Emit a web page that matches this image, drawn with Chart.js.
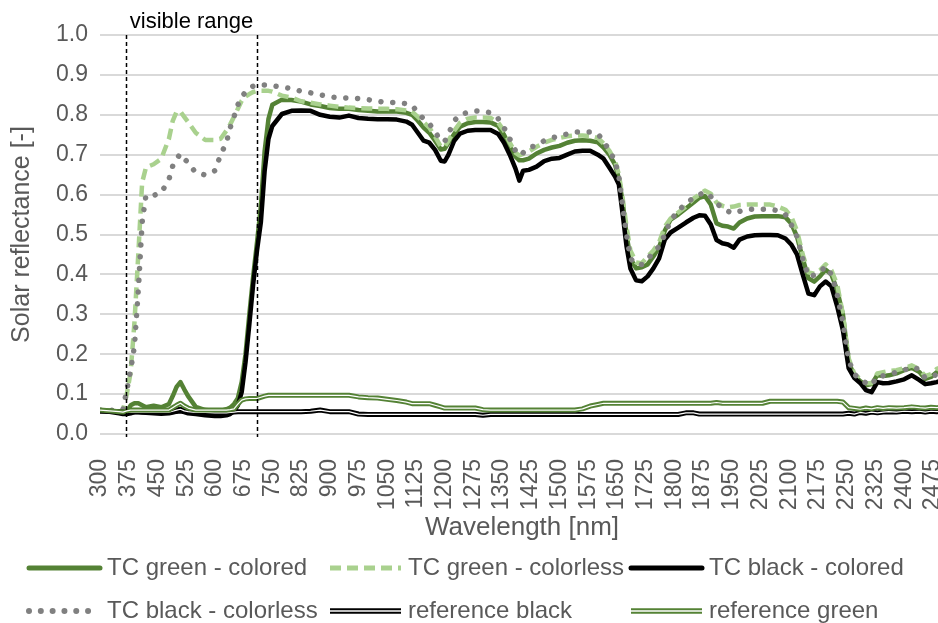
<!DOCTYPE html>
<html>
<head>
<meta charset="utf-8">
<script src="https://cdn.jsdelivr.net/npm/chart.js@4.4.1/dist/chart.umd.min.js"></script>
<style>
html,body{margin:0;padding:0;background:#fff;overflow:hidden;}
#wrap{position:relative;width:944px;height:623px;}
</style>
</head>
<body>
<div id="wrap"><canvas id="c"></canvas></div>
<script>
const wavelengths = [
 300,325,350,360,370,380,390,400,410,420,
 440,460,480,490,500,510,520,530,550,575,
 600,615,630,640,650,660,670,680,690,700,
 710,720,730,740,750,775,800,825,850,875,
 900,925,950,975,1000,1025,1050,1075,1100,1115,
 1130,1145,1160,1175,1190,1200,1210,1225,1240,1260,
 1280,1300,1320,1340,1355,1370,1385,1395,1405,1420,
 1440,1460,1480,1500,1520,1540,1560,1580,1600,1615,
 1630,1645,1655,1665,1675,1685,1700,1715,1730,1745,
 1760,1775,1790,1810,1830,1850,1865,1880,1895,1910,
 1925,1940,1955,1970,1990,2010,2030,2050,2070,2090,
 2105,2120,2135,2150,2165,2180,2195,2210,2225,2240,
 2255,2270,2285,2300,2315,2330,2345,2360,2380,2400,
 2420,2440,2455,2470,2485,2500];

const tcGreenColored = [
 0.058,0.057,0.055,0.052,0.055,0.072,0.077,0.077,0.072,0.067,
 0.071,0.067,0.075,0.095,0.118,0.130,0.112,0.095,0.068,0.060,
 0.058,0.058,0.062,0.066,0.075,0.090,0.130,0.200,0.300,0.395,
 0.480,0.570,0.710,0.790,0.825,0.838,0.837,0.833,0.826,0.822,
 0.817,0.815,0.815,0.812,0.810,0.808,0.808,0.808,0.805,0.800,
 0.785,0.768,0.755,0.735,0.713,0.715,0.730,0.752,0.770,0.779,
 0.782,0.782,0.781,0.772,0.750,0.720,0.695,0.686,0.686,0.690,
 0.703,0.712,0.718,0.722,0.730,0.735,0.736,0.735,0.731,0.718,
 0.700,0.675,0.640,0.580,0.500,0.440,0.415,0.418,0.425,0.445,
 0.468,0.510,0.537,0.550,0.565,0.580,0.592,0.596,0.575,0.528,
 0.522,0.520,0.515,0.530,0.540,0.545,0.546,0.546,0.546,0.543,
 0.528,0.495,0.440,0.390,0.382,0.395,0.412,0.400,0.360,0.300,
 0.180,0.145,0.133,0.122,0.125,0.148,0.145,0.147,0.152,0.160,
 0.166,0.155,0.138,0.143,0.155,0.158];

const tcGreenColorless = [
 0.060,0.058,0.056,0.060,0.100,0.155,0.280,0.450,0.630,0.668,
 0.676,0.690,0.740,0.785,0.808,0.808,0.795,0.782,0.755,0.737,
 0.737,0.740,0.760,0.776,0.795,0.815,0.835,0.846,0.852,0.857,
 0.860,0.860,0.860,0.860,0.858,0.848,0.843,0.834,0.830,0.826,
 0.823,0.820,0.818,0.817,0.816,0.815,0.815,0.814,0.811,0.808,
 0.795,0.782,0.768,0.745,0.720,0.720,0.735,0.760,0.780,0.790,
 0.793,0.793,0.792,0.780,0.760,0.730,0.705,0.698,0.702,0.708,
 0.720,0.730,0.737,0.742,0.746,0.748,0.748,0.747,0.742,0.728,
 0.710,0.685,0.650,0.590,0.520,0.460,0.430,0.428,0.445,0.460,
 0.480,0.520,0.540,0.555,0.570,0.590,0.600,0.610,0.602,0.580,
 0.572,0.568,0.570,0.574,0.575,0.575,0.575,0.575,0.570,0.562,
 0.545,0.510,0.450,0.405,0.402,0.410,0.425,0.410,0.375,0.300,
 0.190,0.150,0.138,0.128,0.127,0.152,0.155,0.158,0.160,0.165,
 0.172,0.162,0.145,0.150,0.163,0.168];

const tcBlackColored = [
 0.058,0.056,0.052,0.050,0.050,0.052,0.055,0.055,0.054,0.053,
 0.052,0.051,0.052,0.054,0.056,0.057,0.055,0.052,0.050,0.047,
 0.045,0.045,0.047,0.050,0.058,0.072,0.105,0.180,0.275,0.375,
 0.460,0.530,0.660,0.740,0.772,0.802,0.810,0.811,0.810,0.800,
 0.795,0.793,0.798,0.792,0.790,0.789,0.789,0.788,0.783,0.775,
 0.755,0.735,0.730,0.712,0.685,0.683,0.700,0.735,0.753,0.760,
 0.762,0.762,0.762,0.752,0.730,0.700,0.665,0.635,0.660,0.662,
 0.670,0.684,0.690,0.692,0.700,0.708,0.710,0.710,0.700,0.690,
 0.668,0.645,0.625,0.550,0.470,0.415,0.385,0.383,0.395,0.415,
 0.440,0.487,0.505,0.517,0.530,0.542,0.548,0.547,0.525,0.486,
 0.478,0.475,0.467,0.487,0.495,0.498,0.499,0.499,0.498,0.490,
 0.475,0.450,0.400,0.352,0.348,0.370,0.382,0.370,0.320,0.260,
 0.165,0.140,0.128,0.110,0.105,0.130,0.127,0.128,0.132,0.137,
 0.147,0.135,0.125,0.127,0.130,0.135];

const tcBlackColorless = [
 0.060,0.060,0.058,0.062,0.110,0.160,0.220,0.360,0.530,0.598,
 0.598,0.605,0.638,0.672,0.690,0.702,0.690,0.680,0.655,0.649,
 0.660,0.700,0.730,0.768,0.795,0.825,0.845,0.857,0.866,0.872,
 0.875,0.875,0.875,0.874,0.873,0.869,0.866,0.859,0.855,0.850,
 0.845,0.843,0.842,0.841,0.838,0.834,0.831,0.831,0.828,0.824,
 0.805,0.790,0.778,0.757,0.735,0.733,0.752,0.785,0.800,0.806,
 0.810,0.809,0.805,0.790,0.768,0.740,0.710,0.698,0.705,0.718,
 0.723,0.735,0.742,0.747,0.752,0.757,0.757,0.757,0.752,0.735,
 0.710,0.685,0.645,0.570,0.500,0.440,0.425,0.425,0.438,0.455,
 0.470,0.500,0.535,0.560,0.577,0.592,0.600,0.606,0.595,0.578,
 0.567,0.558,0.553,0.558,0.563,0.563,0.563,0.563,0.560,0.550,
 0.525,0.495,0.440,0.395,0.398,0.406,0.420,0.400,0.350,0.280,
 0.185,0.150,0.136,0.128,0.122,0.145,0.146,0.148,0.155,0.160,
 0.168,0.162,0.140,0.145,0.148,0.155];

const referenceBlack = [
 0.057,0.057,0.056,0.055,0.055,0.055,0.055,0.055,0.055,0.055,
 0.055,0.055,0.055,0.057,0.060,0.062,0.058,0.056,0.054,0.054,
 0.053,0.053,0.053,0.054,0.055,0.056,0.056,0.056,0.056,0.056,
 0.056,0.056,0.056,0.056,0.056,0.056,0.056,0.056,0.057,0.060,
 0.056,0.056,0.056,0.050,0.049,0.049,0.049,0.049,0.049,0.049,
 0.049,0.049,0.049,0.049,0.049,0.049,0.049,0.049,0.049,0.049,
 0.049,0.047,0.049,0.049,0.049,0.049,0.049,0.049,0.049,0.049,
 0.049,0.049,0.049,0.049,0.049,0.049,0.049,0.049,0.049,0.049,
 0.049,0.049,0.049,0.049,0.049,0.049,0.049,0.049,0.049,0.049,
 0.049,0.049,0.049,0.049,0.053,0.053,0.050,0.050,0.050,0.050,
 0.050,0.050,0.050,0.050,0.050,0.050,0.050,0.050,0.050,0.050,
 0.050,0.050,0.050,0.050,0.050,0.050,0.050,0.050,0.050,0.050,
 0.052,0.050,0.054,0.052,0.055,0.053,0.055,0.056,0.055,0.057,
 0.056,0.057,0.055,0.057,0.056,0.057];

const referenceGreen = [
 0.060,0.058,0.056,0.055,0.058,0.060,0.060,0.060,0.060,0.060,
 0.060,0.060,0.060,0.066,0.072,0.077,0.070,0.065,0.060,0.060,
 0.060,0.060,0.060,0.061,0.063,0.075,0.085,0.088,0.089,0.089,
 0.089,0.092,0.095,0.097,0.097,0.097,0.097,0.097,0.097,0.097,
 0.097,0.097,0.097,0.093,0.091,0.090,0.087,0.084,0.080,0.076,
 0.076,0.076,0.076,0.072,0.068,0.065,0.065,0.065,0.065,0.065,
 0.065,0.061,0.060,0.060,0.060,0.060,0.060,0.060,0.060,0.060,
 0.060,0.060,0.060,0.060,0.060,0.060,0.063,0.070,0.074,0.077,
 0.077,0.077,0.077,0.077,0.077,0.077,0.077,0.077,0.077,0.077,
 0.077,0.077,0.077,0.077,0.077,0.077,0.077,0.077,0.077,0.079,
 0.077,0.077,0.077,0.077,0.077,0.077,0.077,0.082,0.082,0.082,
 0.082,0.082,0.082,0.082,0.082,0.082,0.082,0.082,0.082,0.080,
 0.066,0.064,0.062,0.065,0.063,0.066,0.064,0.066,0.065,0.066,
 0.068,0.066,0.065,0.067,0.066,0.067];

const seriesNames = ['TC green - colored','TC green - colorless','TC black - colored',
                     'TC black - colorless','reference black','reference green'];
const xTickValues = [300,375,450,525,600,675,750,825,900,975,1050,1125,1200,1275,1350,
                     1425,1500,1575,1650,1725,1800,1875,1950,2025,2100,2175,2250,2325,2400,2475];
const yTickValues = [0,0.1,0.2,0.3,0.4,0.5,0.6,0.7,0.8,0.9,1.0];
const visibleRangeBounds = [368, 710];
const visibleRangeLabel = 'visible range';
const xAxisTitle = 'Wavelength [nm]';
const yAxisTitle = 'Solar reflectance [-]';

const FONT = "'Liberation Sans', Arial, sans-serif";
const TEXT = '#595959';
const pts = arr => wavelengths.map((w, i) => ({x: w, y: arr[i]}));
const base = {pointRadius: 0, pointHoverRadius: 0, fill: false, tension: 0, borderJoinStyle: 'round'};

const datasets = [
  {...base, label: seriesNames[0], data: pts(tcGreenColored), borderColor: '#548235', borderWidth: 4.5, borderCapStyle: 'round', order: 20},
  {...base, label: seriesNames[1], data: pts(tcGreenColorless), borderColor: '#A9D18E', borderWidth: 4.5, borderDash: [11, 6], order: 19},
  {...base, label: seriesNames[2], data: pts(tcBlackColored), borderColor: '#000000', borderWidth: 4.5, borderCapStyle: 'round', order: 18},
  {...base, label: seriesNames[3], data: pts(tcBlackColorless), borderColor: '#808080', borderWidth: 5.5, borderDash: [0.01, 11.8], borderCapStyle: 'round', order: 17},
  {...base, label: seriesNames[4], data: pts(referenceBlack), borderColor: '#000000', borderWidth: 5, order: 16},
  {...base, label: seriesNames[4] + ' (inner)', data: pts(referenceBlack), borderColor: '#ffffff', borderWidth: 1.2, order: 15, overlay: true},
  {...base, label: seriesNames[5], data: pts(referenceGreen), borderColor: '#548235', borderWidth: 5, order: 14},
  {...base, label: seriesNames[5] + ' (inner)', data: pts(referenceGreen), borderColor: '#ffffff', borderWidth: 1.2, order: 13, overlay: true}
];

const rangePlugin = {
  id: 'visibleRange',
  afterDatasetsDraw(chart) {
    const {ctx, chartArea, scales} = chart;
    const xs = visibleRangeBounds.map(v => scales.x.getPixelForValue(v));
    ctx.save();
    ctx.strokeStyle = '#000';
    ctx.lineWidth = 1.5;
    ctx.setLineDash([4, 3]);
    xs.forEach(x => {
      ctx.beginPath();
      ctx.moveTo(Math.round(x) + 0.5, chartArea.top);
      ctx.lineTo(Math.round(x) + 0.5, chartArea.bottom + 3);
      ctx.stroke();
    });
    ctx.setLineDash([]);
    ctx.fillStyle = '#000';
    ctx.font = '22px ' + FONT;
    ctx.textAlign = 'center';
    ctx.textBaseline = 'alphabetic';
    ctx.fillText(visibleRangeLabel, (xs[0] + xs[1]) / 2, 28);
    ctx.restore();
  }
};

const legendPlugin = {
  id: 'gridLegend',
  afterDraw(chart) {
    const ctx = chart.ctx;
    const ds = chart.data.datasets;
    const items = [];
    ds.forEach((d, i) => { if (!d.overlay) items.push({d, inner: ds[i + 1] && ds[i + 1].overlay ? ds[i + 1] : null}); });
    const colX = [29, 330, 631];
    const rowY = [568, 611];
    ctx.save();
    items.forEach((it, k) => {
      const x = colX[k % 3], y = rowY[Math.floor(k / 3)];
      const d = it.d;
      const len = d.borderDash && d.borderDash[0] < 1 ? 61 : 71;
      ctx.lineWidth = d.borderWidth + 0.5;
      ctx.strokeStyle = d.borderColor;
      ctx.lineCap = d.borderCapStyle || 'butt';
      ctx.setLineDash(d.borderDash || []);
      ctx.beginPath(); ctx.moveTo(x, y); ctx.lineTo(x + len, y); ctx.stroke();
      if (it.inner) {
        ctx.setLineDash([]);
        ctx.lineCap = 'butt';
        ctx.lineWidth = it.inner.borderWidth + 0.3;
        ctx.strokeStyle = it.inner.borderColor;
        ctx.beginPath(); ctx.moveTo(x, y); ctx.lineTo(x + len, y); ctx.stroke();
      }
      ctx.setLineDash([]);
      ctx.fillStyle = TEXT;
      ctx.font = '24px ' + FONT;
      ctx.textAlign = 'left';
      ctx.textBaseline = 'middle';
      ctx.fillText(d.label, x + 78, y);
    });
    ctx.restore();
  }
};

new Chart(document.getElementById('c'), {
  type: 'line',
  data: {datasets},
  options: {
    responsive: true,
    maintainAspectRatio: false,
    animation: false,
    events: [],
    layout: {padding: {top: 35, left: 0, right: 0, bottom: 75}},
    plugins: {legend: {display: false}, tooltip: {enabled: false}},
    scales: {
      x: {
        type: 'linear', min: 300, max: 2504,
        afterBuildTicks: s => { s.ticks = xTickValues.map(v => ({value: v})); },
        afterFit: s => { s.height = 114; s.paddingLeft = 0; s.paddingRight = 0; },
        ticks: {autoSkip: false, minRotation: 90, maxRotation: 90, padding: 25,
                font: {size: 23, family: FONT}, color: TEXT, callback: v => String(v)},
        grid: {display: false, drawTicks: false},
        border: {display: false},
        title: {display: true, text: xAxisTitle, font: {size: 26, family: FONT}, color: TEXT, padding: {top: 0, bottom: 5}}
      },
      y: {
        min: 0, max: 1,
        afterBuildTicks: s => { s.ticks = yTickValues.map(v => ({value: v})); },
        afterFit: s => { s.width = 100; },
        ticks: {padding: 12, font: {size: 23, family: FONT}, color: TEXT, callback: v => Number(v).toFixed(1)},
        grid: {color: '#D9D9D9', lineWidth: 2, drawTicks: false},
        border: {display: false},
        title: {display: true, text: yAxisTitle, font: {size: 25, family: FONT}, color: TEXT, padding: {top: 7, bottom: 0}}
      }
    }
  },
  plugins: [rangePlugin, legendPlugin]
});
</script>
</body>
</html>
